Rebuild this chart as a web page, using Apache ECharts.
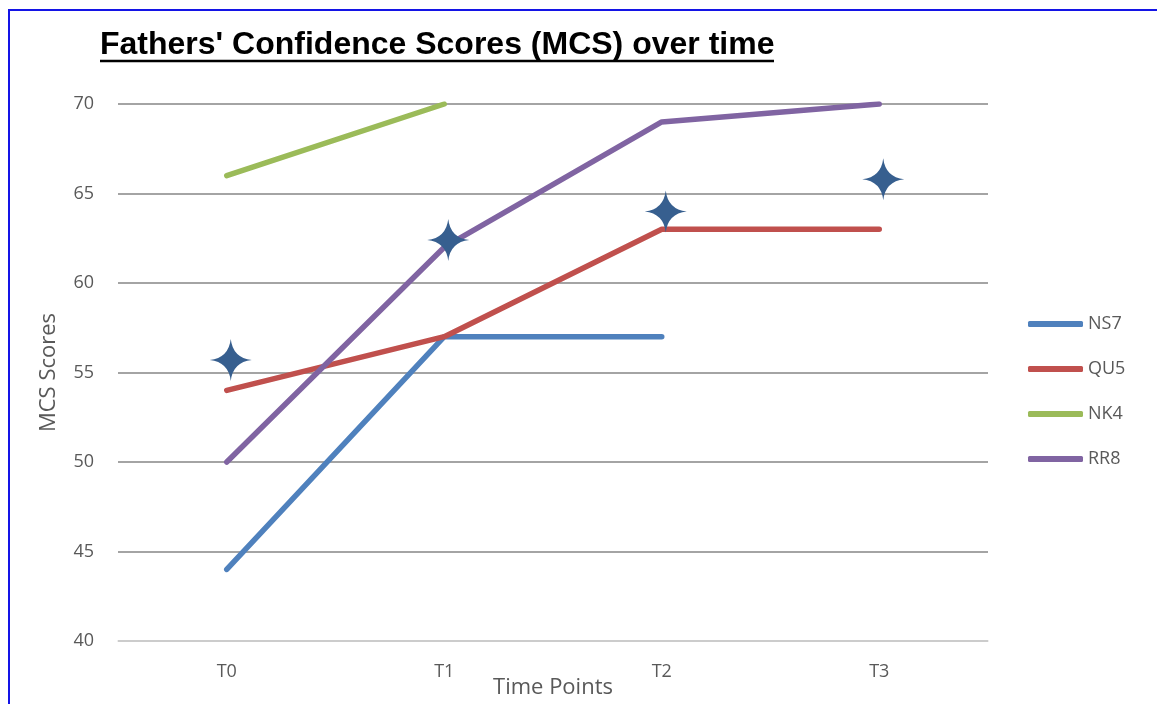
<!DOCTYPE html>
<html>
<head>
<meta charset="utf-8">
<script src="https://cdn.jsdelivr.net/npm/echarts@6/dist/echarts.min.js"></script>
<style>
html,body{margin:0;padding:0;background:#fff;overflow:hidden;}
#chart{width:1157px;height:704px;}
</style>
</head>
<body>
<div id="chart"></div>
<script>
// categories on the x axis
const timePoints = ['T0', 'T1', 'T2', 'T3']
// fathers' scores (null = no value)
const ns7 = [44, 57, 57, null]
const qu5 = [54, 57, 63, 63]
const nk4 = [66, 70, null, null]
const rr8 = [50, 62, 69, 70]
// star markers
const starVals = [55.7, 62.4, 64, 65.8]

const starPath = 'path://M20,0 Q22,18 40,20 Q22,22 20,40 Q18,22 0,20 Q18,18 20,0 Z'
const font = '"Open Sans", "Noto Sans", sans-serif'

function lineSeries(name, data, color) {
    return {
        name: name,
        type: 'line',
        data: data,
        symbol: 'none',
        connectNulls: false,
        itemStyle: { color: color },
        lineStyle: { color: color, width: 5.5, cap: 'round', join: 'round' },
        z: 3
    }
}

const myChart = echarts.init(document.getElementById('chart'))
const option = {
    animation: false,
    backgroundColor: '#fff',
    title: {
        text: "Fathers' Confidence Scores (MCS) over time",
        left: 95,
        top: 24,
        textStyle: {
            fontFamily: '"Liberation Sans", Arial, sans-serif',
            fontWeight: 'bold',
            fontSize: 32,
            color: '#000'
        }
    },
    graphic: [
        {
            type: 'rect',
            shape: { x: 9, y: 10, width: 3000, height: 3000 },
            style: { fill: 'none', stroke: '#1414e6', lineWidth: 2 },
            silent: true
        },
        {
            type: 'line',
            shape: { x1: 100, y1: 61, x2: 774, y2: 61 },
            style: { stroke: '#000', lineWidth: 2.5 },
            silent: true
        }
    ],
    legend: {
        orient: 'vertical',
        left: 1023,
        top: 310,
        icon: 'roundRect',
        itemWidth: 55,
        itemHeight: 6,
        itemGap: 27,
        data: ['NS7', 'QU5', 'NK4', 'RR8'],
        textStyle: { fontFamily: font, fontSize: 18, color: '#595959' }
    },
    grid: {
        left: 118,
        width: 870,
        top: 104,
        height: 537,
        containLabel: false,
        outerBoundsMode: 'none'
    },
    xAxis: {
        type: 'category',
        data: timePoints,
        boundaryGap: true,
        name: 'Time Points',
        nameLocation: 'middle',
        nameGap: 36,
        nameMoveOverlap: false,
        nameTextStyle: { fontFamily: font, fontSize: 22, color: '#595959' },
        axisLine: { lineStyle: { color: '#d9d9d9', width: 1.5 } },
        axisTick: { show: false },
        axisLabel: { margin: 22, fontFamily: font, fontSize: 18, color: '#595959' }
    },
    yAxis: {
        type: 'value',
        min: 40,
        max: 70,
        interval: 5,
        name: 'MCS Scores',
        nameLocation: 'middle',
        nameGap: 58,
        nameTextStyle: { fontFamily: font, fontSize: 22, color: '#595959' },
        axisLine: { show: false },
        axisTick: { show: false },
        axisLabel: { margin: 24, fontFamily: font, fontSize: 18, color: '#595959' },
        splitLine: { lineStyle: { color: '#868686', width: 1.5 } }
    },
    series: [
        lineSeries('NS7', ns7, '#4f81bd'),
        lineSeries('QU5', qu5, '#c0504d'),
        lineSeries('NK4', nk4, '#9bbb59'),
        lineSeries('RR8', rr8, '#8064a2'),
        {
            name: 'Stars',
            type: 'scatter',
            data: starVals,
            symbol: starPath,
            symbolSize: [42, 42],
            symbolOffset: [4, 0],
            itemStyle: { color: '#375f8f', opacity: 1 },
            z: 5
        }
    ]
}
myChart.setOption(option)
window.addEventListener('resize', () => {
    myChart.resize()
})
</script>
</body>
</html>
